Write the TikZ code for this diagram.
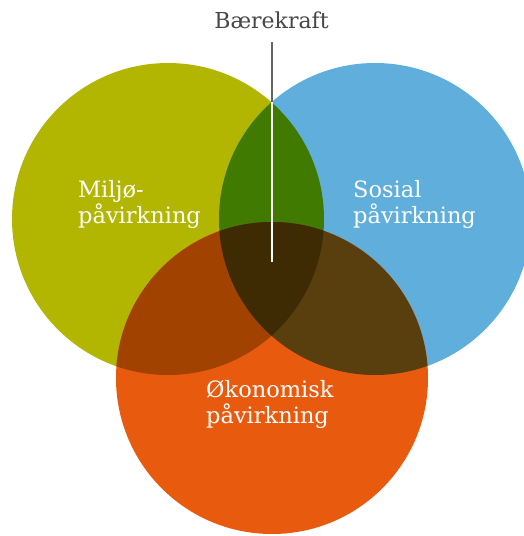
\documentclass[tikz,border=0pt]{standalone}
\usepackage{fontspec}
\setmainfont{DejaVu Serif}
\usetikzlibrary{positioning}
\definecolor{miljo}{RGB}{178,182,0}
\definecolor{sosial}{RGB}{95,174,219}
\definecolor{okonomi}{RGB}{232,91,14}
\definecolor{miljosos}{RGB}{65,122,0}
\definecolor{miljooko}{RGB}{161,66,0}
\definecolor{sosoko}{RGB}{90,63,14}
\definecolor{kjerne}{RGB}{62,43,3}
\definecolor{strekgra}{RGB}{100,100,100}
\tikzset{
  lbl/.style  = {text=white, font=\fontsize{22.5}{26}\selectfont, align=left, inner sep=0pt, anchor=base west},
  tittel/.style = {text=black!72, font=\fontsize{22}{26}\selectfont, inner sep=0pt, anchor=base},
  strek/.style = {line width=2pt},
}
\newcommand{\sirkelr}{156pt}

\begin{document}
\begin{tikzpicture}[x=1pt,y=-1pt]
  \useasboundingbox (0,0) rectangle (523,536);
  \coordinate (mc) at (168,219);
  \coordinate (sc) at (375,219);
  \coordinate (oc) at (272,378);

  % the three circles
  \fill[miljo]   (mc) circle (\sirkelr);
  \fill[sosial]  (sc) circle (\sirkelr);
  \fill[okonomi] (oc) circle (\sirkelr);

  % pairwise overlaps
  \begin{scope}
    \clip (mc) circle (\sirkelr);
    \fill[miljosos] (sc) circle (\sirkelr);
    \fill[miljooko] (oc) circle (\sirkelr);
  \end{scope}
  \begin{scope}
    \clip (sc) circle (\sirkelr);
    \fill[sosoko] (oc) circle (\sirkelr);
  \end{scope}
  % centre, all three
  \begin{scope}
    \clip (mc) circle (\sirkelr);
    \clip (sc) circle (\sirkelr);
    \fill[kjerne] (oc) circle (\sirkelr);
  \end{scope}

  % base anchor sits on the last line
  \node[lbl] (miljo)  at (78,223)  {Miljø-\\påvirkning};
  \node[lbl] (sosial) at (353,223) {Sosial\\påvirkning};
  \node[lbl] (okonomi) at (206,423) {Økonomisk\\påvirkning};
  \node[tittel] (baere) at (271.5,28) {Bærekraft};

  \coordinate (topp) at (271.5,42);
  \coordinate (kryss) at (271.5,102);
  \coordinate (midt) at (271.5,262);
  \draw[strek, strekgra] (topp) -- (kryss);
  \draw[strek, white] (kryss) -- (midt);
\end{tikzpicture}
\end{document}
